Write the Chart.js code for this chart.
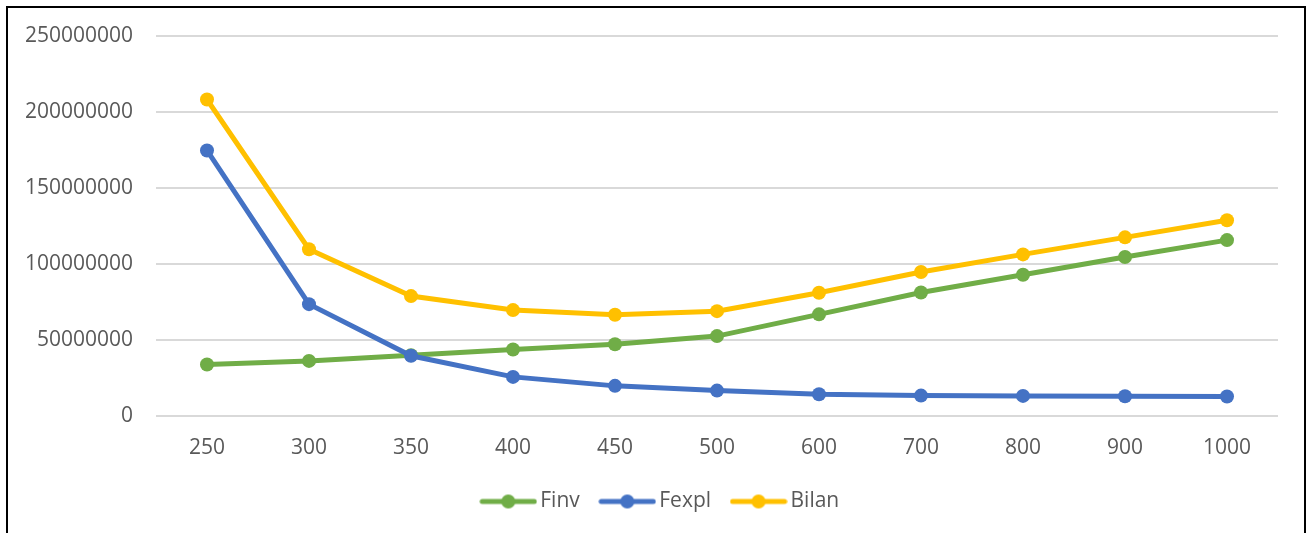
<!DOCTYPE html>
<html>
<head>
<meta charset="utf-8">
<script src="https://cdn.jsdelivr.net/npm/chart.js@4.4.1/dist/chart.umd.min.js"></script>
<style>
  html, body { margin: 0; padding: 0; background: #ffffff; }
  #wrap { position: relative; width: 1308px; height: 533px; overflow: hidden; }
  #frame { position: absolute; left: 6px; top: 6px; width: 1300px; height: 600px; border: 2px solid #000; box-sizing: border-box; pointer-events: none; }
  canvas { position: absolute; left: 0; top: 0; }
</style>
</head>
<body>
<div id="wrap">
  <canvas id="chart" width="1308" height="533"></canvas>
  <div id="frame"></div>
</div>
<script>
// Category labels along the x axis
const categories = ['250', '300', '350', '400', '450', '500', '600', '700', '800', '900', '1000'];

// Series values
const finv  = [33800000, 36200000, 40000000, 43700000, 47200000, 52500000, 66800000, 81200000, 92800000, 104500000, 115600000];
const fexpl = [174500000, 73500000, 39600000, 25700000, 19800000, 16700000, 14300000, 13400000, 13200000, 13000000, 12800000];
const bilan = [208000000, 109600000, 78800000, 69600000, 66500000, 68900000, 81000000, 94600000, 106200000, 117400000, 128600000];

// Y axis range and step
const yMin = 0;
const yMax = 250000000;
const yStep = 50000000;

const seriesNames = ['Finv', 'Fexpl', 'Bilan'];
const seriesColors = ['#70AD47', '#4472C4', '#FFC000'];
const seriesValues = [finv, fexpl, bilan];

const FONT = '"Open Sans", "Liberation Sans", sans-serif';
const TEXT = '#595959';

// Small line-with-marker swatch used in the legend
function makeSwatch(color) {
  const c = document.createElement('canvas');
  c.width = 58; c.height = 16;
  const g = c.getContext('2d');
  g.strokeStyle = color;
  g.lineWidth = 5;
  g.lineCap = 'round';
  g.beginPath();
  g.moveTo(3, 8); g.lineTo(55, 8);
  g.stroke();
  g.fillStyle = color;
  g.beginPath();
  g.arc(29, 8, 7, 0, Math.PI * 2);
  g.fill();
  return c;
}
const swatches = seriesColors.map(makeSwatch);

const datasets = seriesNames.map((name, i) => ({
  label: name,
  data: seriesValues[i],
  borderColor: seriesColors[i],
  backgroundColor: seriesColors[i],
  borderWidth: 5,
  pointRadius: 7,
  pointBorderWidth: 0,
  pointBackgroundColor: seriesColors[i],
  tension: 0,
  order: 3 - i
}));

// Nudge the legend block horizontally so it sits slightly right of centre
const legendShift = {
  id: 'legendShift',
  beforeDraw(chart) {
    const lg = chart.legend;
    if (lg && !lg._shifted) {
      lg.left += 15; lg.right += 15;
      lg._shifted = true;
    }
  }
};

new Chart(document.getElementById('chart'), {
  type: 'line',
  data: { labels: categories, datasets },
  plugins: [legendShift],
  options: {
    responsive: false,
    animation: false,
    events: [],
    layout: { padding: { left: 18, right: 30, top: 27, bottom: 11 } },
    scales: {
      x: {
        offset: true,
        grid: { display: false, drawTicks: false },
        border: { display: false },
        ticks: { color: TEXT, font: { family: FONT, size: 21 }, padding: 19, maxRotation: 0 },
        afterFit(scale) { scale.height = 49; }
      },
      y: {
        min: yMin,
        max: yMax,
        grid: { color: '#D9D9D9', lineWidth: 2, drawTicks: false },
        border: { display: false },
        ticks: {
          stepSize: yStep,
          color: TEXT,
          font: { family: FONT, size: 21 },
          padding: 23,
          callback: (v) => String(v)
        },
        afterFit(scale) { scale.width = 138; }
      }
    },
    plugins: {
      tooltip: { enabled: false },
      legend: {
        position: 'bottom',
        labels: {
          usePointStyle: true,
          pointStyleWidth: 43,
          padding: 26,
          color: TEXT,
          font: { family: FONT, size: 21 },
          generateLabels(chart) {
            return chart.data.datasets.map((ds, i) => ({
              text: ds.label,
              fontColor: TEXT,
              pointStyle: swatches[i],
              fillStyle: ds.borderColor,
              strokeStyle: ds.borderColor,
              lineWidth: 0,
              hidden: false,
              datasetIndex: i
            }));
          }
        }
      }
    }
  }
});
</script>
</body>
</html>
